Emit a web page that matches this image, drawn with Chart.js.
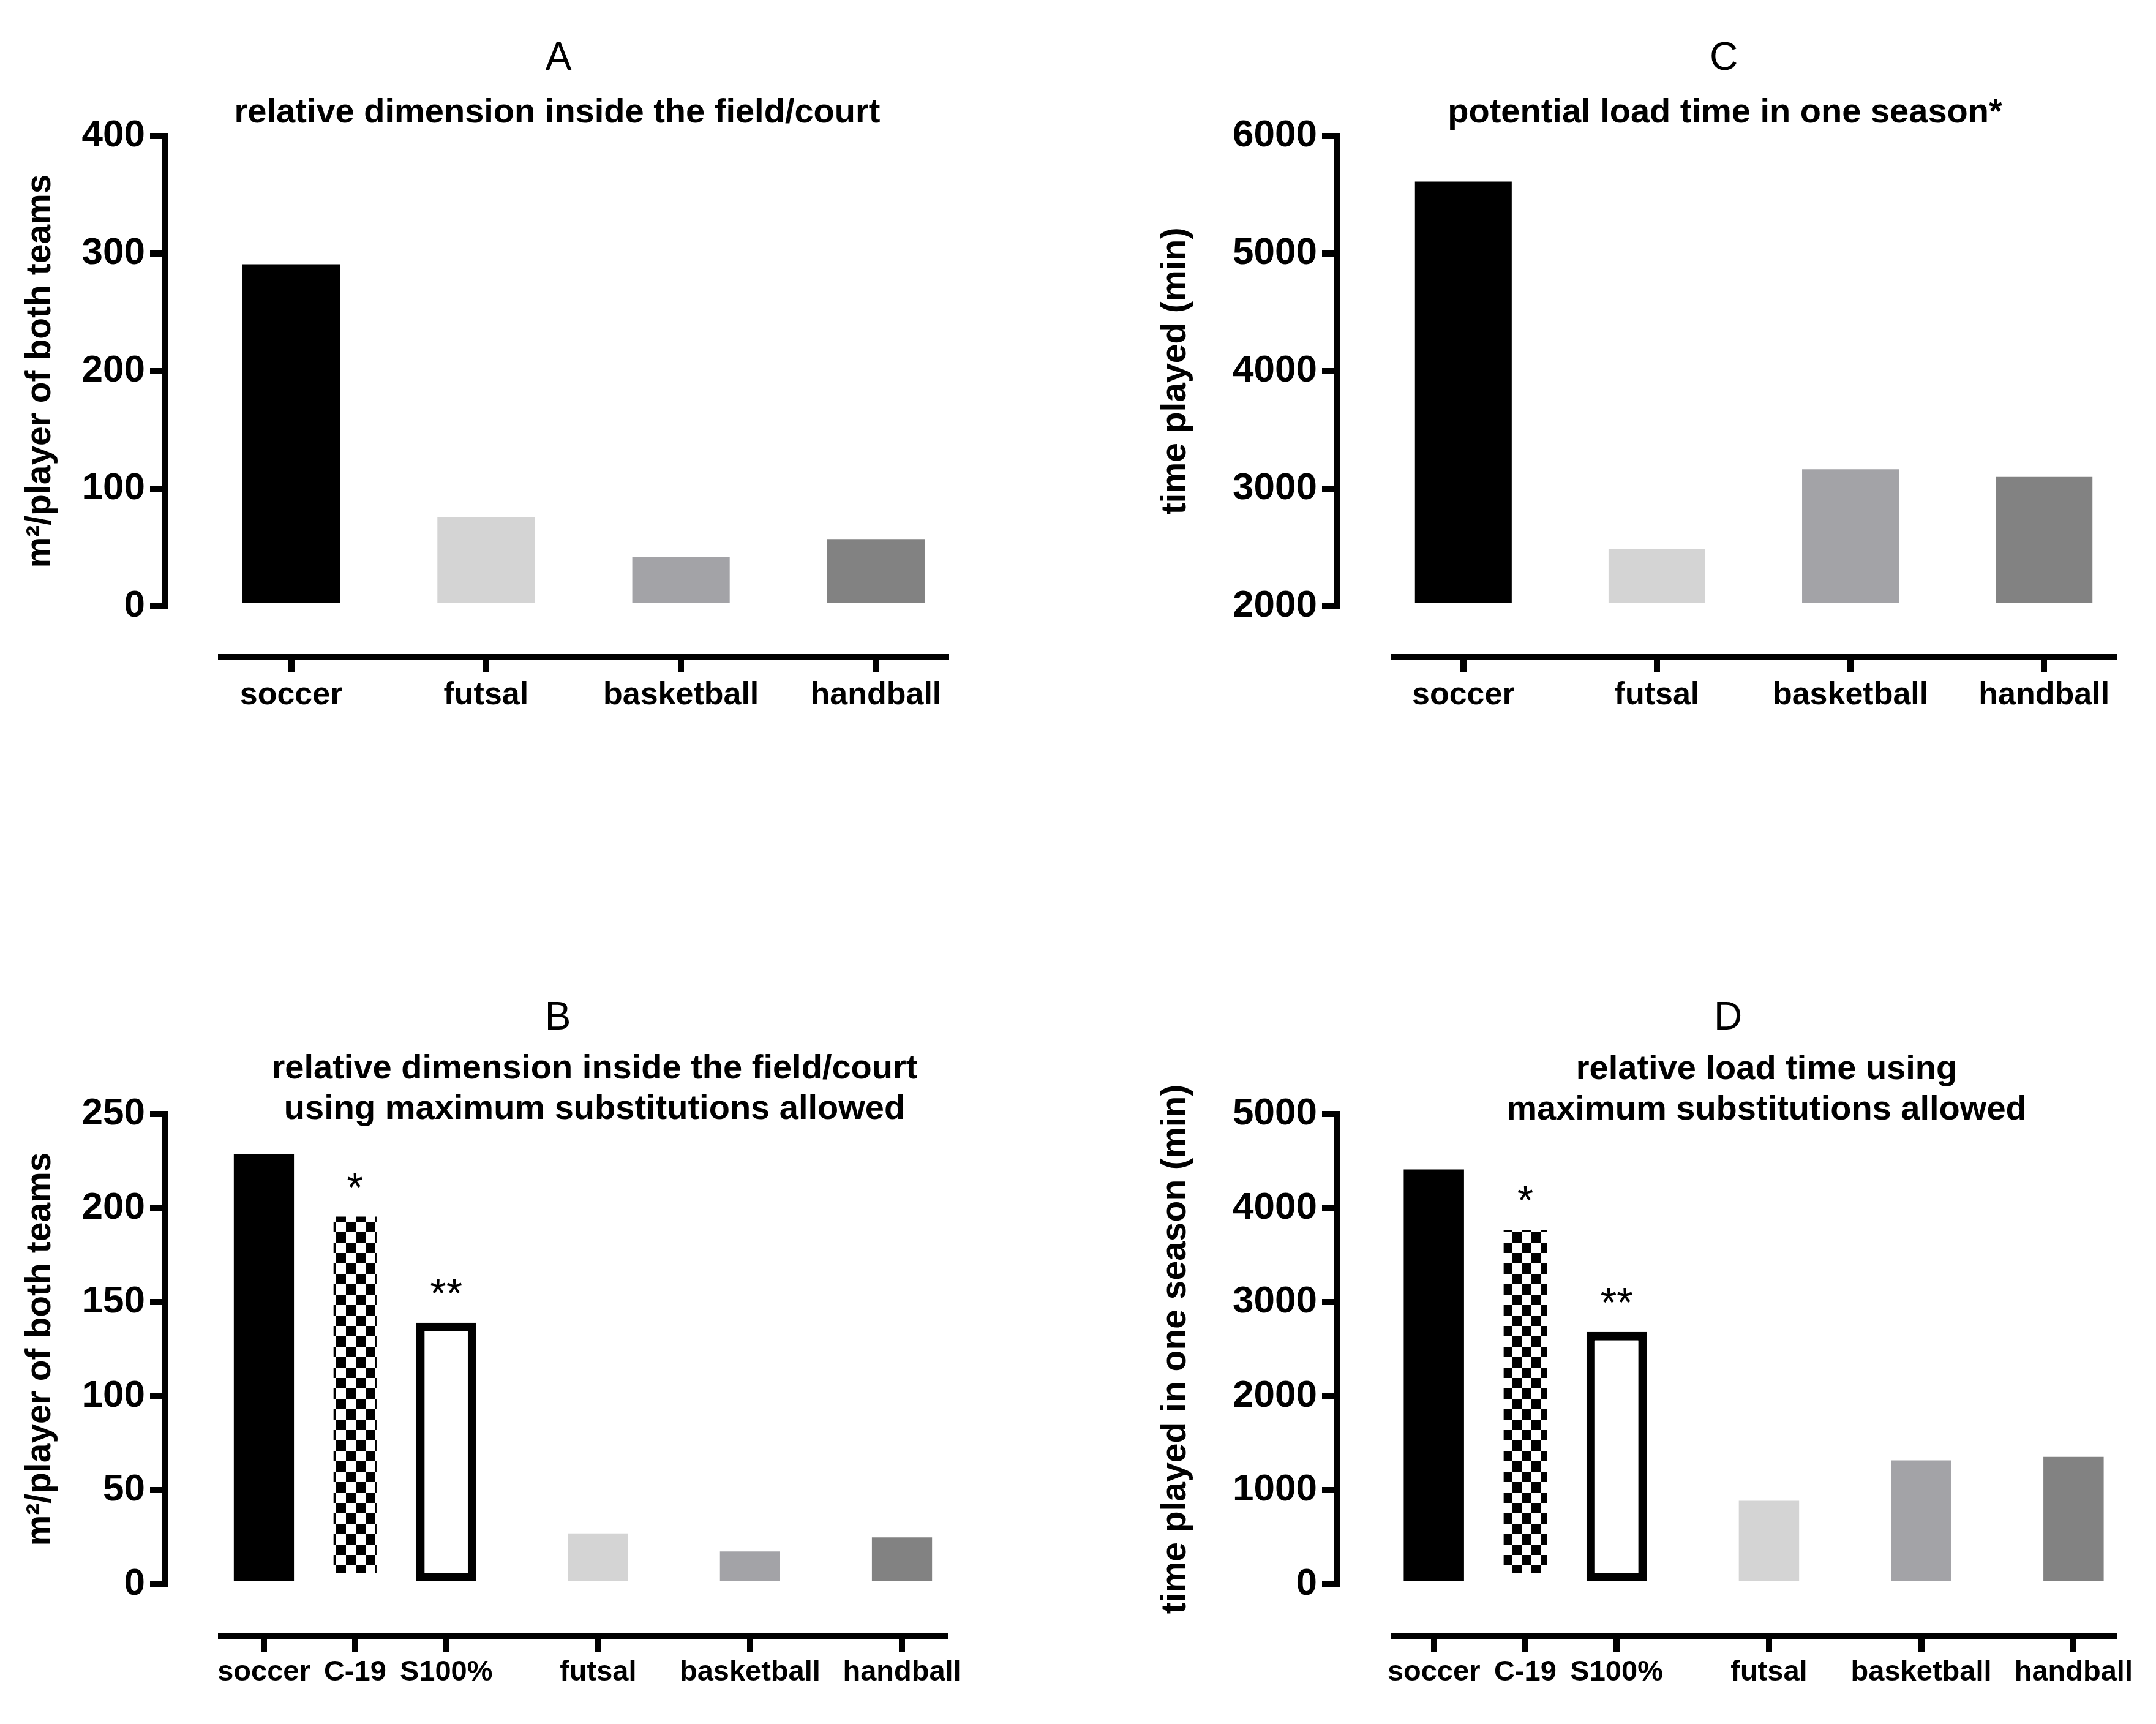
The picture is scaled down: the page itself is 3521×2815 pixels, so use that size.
<!DOCTYPE html>
<html>
<head>
<meta charset="utf-8">
<script src="https://cdn.jsdelivr.net/npm/chart.js@4/dist/chart.umd.min.js"></script>
<style>
  html, body { margin: 0; padding: 0; background: #ffffff; width: 3521px; height: 2815px; overflow: hidden; position: relative; }
  canvas { position: absolute; }
</style>
</head>
<body>
<canvas id="cA" width="1760" height="1400" style="left:0px;top:0px;width:1760px;height:1400px"></canvas>
<canvas id="cC" width="1761" height="1400" style="left:1760px;top:0px;width:1761px;height:1400px"></canvas>
<canvas id="cB" width="1760" height="1415" style="left:0px;top:1400px;width:1760px;height:1415px"></canvas>
<canvas id="cD" width="1761" height="1415" style="left:1760px;top:1400px;width:1761px;height:1415px"></canvas>
<script>
// ---------------- data ----------------
const sportsAC = ['soccer', 'futsal', 'basketball', 'handball'];
const sportsBD = ['soccer', 'C-19', 'S100%', 'futsal', 'basketball', 'handball'];
const slotsAC = [0, 1, 2, 3];
const slotsBD = [0, 1, 2, 3.667, 5.333, 7];

const areaA = [290.9, 76, 42, 57.1];          // m2/player of both teams
const loadC = [5612, 2490, 3165, 3100];       // time played (min)
const areaB = [228.6, 200, 139.1, 27.1, 17.5, 25];
const loadD = [4410, 3858, 2684, 889, 1319, 1356];

const ticksA = [0, 100, 200, 300, 400];
const ticksC = [2000, 3000, 4000, 5000, 6000];
const ticksB = [0, 50, 100, 150, 200, 250];
const ticksD = [0, 1000, 2000, 3000, 4000, 5000];

const marksBD = ['', '*', '**', '', '', ''];

const titleA = ['relative dimension inside the field/court'];
const titleC = ['potential load time in one season*'];
const titleB = ['relative dimension inside the field/court', 'using maximum substitutions allowed'];
const titleD = ['relative load time using', 'maximum substitutions allowed'];

const yTitleA = 'm\u00B2/player of both teams';
const yTitleC = 'time played (min)';
const yTitleB = 'm\u00B2/player of both teams';
const yTitleD = 'time played in one season (min)';

// ---------------- style ----------------
const FONT = '"Liberation Sans", Arial, Helvetica, sans-serif';
const BLACK = '#000000', LIGHT = '#d4d4d4', MID = '#a3a3a7', DARK = '#828282', WHITE = '#ffffff';

Chart.defaults.font.family = FONT;
Chart.defaults.color = '#000000';

function checkerPattern(ctx) {
  const tile = document.createElement('canvas');
  tile.width = 32; tile.height = 34;
  const g = tile.getContext('2d');
  g.fillStyle = WHITE; g.fillRect(0, 0, 32, 34);
  g.fillStyle = BLACK; g.fillRect(0, 0, 16, 17); g.fillRect(16, 17, 16, 17);
  const p = ctx.createPattern(tile, 'repeat');
  try { p.setTransform(new DOMMatrix().translate(5, 0)); } catch (e) {}
  return p;
}

const panelText = {
  id: 'panelText',
  afterDraw(chart, args, o) {
    const ctx = chart.ctx;
    ctx.save();
    ctx.fillStyle = BLACK;
    ctx.textAlign = 'center';
    ctx.textBaseline = 'alphabetic';
    ctx.font = '400 ' + o.letterSize + 'px ' + FONT;
    ctx.fillText(o.letter, o.letterX, o.letterY);
    ctx.font = '700 ' + o.lineSize + 'px ' + FONT;
    o.lines.forEach((t, i) => ctx.fillText(t, o.linesX, o.linesY + i * o.lineGap));
    if (o.marks) {
      const meta = chart.getDatasetMeta(0);
      ctx.font = '400 ' + o.markSize + 'px ' + FONT;
      meta.data.forEach((el, i) => {
        const m = o.marks[i];
        if (!m) return;
        const inset = o.insets ? o.insets[i] : 0;
        ctx.fillText(m, el.x, el.y + inset - o.markGap);
      });
    }
    ctx.restore();
  }
};

function spacer(axis, size) {
  return {
    type: 'linear', axis: axis, position: axis === 'x' ? 'bottom' : 'left', weight: 0, display: true,
    grid: { display: false, drawTicks: false }, border: { display: false }, ticks: { display: false },
    afterFit(s) { if (axis === 'x') s.height = size; else s.width = size; }
  };
}

function makePanel(cfg) {
  const canvas = document.getElementById(cfg.id);
  const ctx = canvas.getContext('2d');
  const bg = cfg.colors(ctx);
  return new Chart(ctx, {
    type: 'bar',
    data: {
      datasets: [{
        data: cfg.values.map((v, i) => ({ x: cfg.slots[i], y: v })),
        backgroundColor: bg,
        borderColor: cfg.borderColors || BLACK,
        borderWidth: cfg.borderWidths || 0,
        borderSkipped: false,
        barPercentage: cfg.barPct,
        categoryPercentage: 1,
        base: cfg.yTicks[0]
      }]
    },
    plugins: [panelText],
    options: {
      responsive: false,
      animation: false,
      devicePixelRatio: 1,
      layout: { padding: { left: 0, top: cfg.padTop, right: cfg.padRight, bottom: cfg.padBottom } },
      plugins: {
        legend: { display: false },
        tooltip: { enabled: false },
        panelText: {
          letter: cfg.letter, letterX: cfg.letterX, letterY: cfg.letterY, letterSize: 64,
          lines: cfg.lines, linesX: cfg.linesX, linesY: cfg.linesY, lineGap: 66, lineSize: 56,
          marks: cfg.marks, insets: cfg.borderWidths ? cfg.borderWidths.map((w, i) => cfg.borderColors[i] === WHITE ? w : 0) : null,
          markSize: 68, markGap: 25
        }
      },
      scales: {
        x: {
          type: 'linear', position: 'bottom', weight: 1, offset: false,
          min: cfg.xMin, max: cfg.xMax,
          afterBuildTicks(s) { s.ticks = cfg.slots.map(v => ({ value: v })); },
          afterFit(s) { s.height = 100; },
          border: { display: true, color: BLACK, width: 10 },
          grid: { offset: false, drawOnChartArea: false, drawTicks: true, tickLength: 25, tickWidth: 10, tickColor: BLACK, lineWidth: 10, color: BLACK },
          ticks: {
            autoSkip: false, maxRotation: 0, minRotation: 0, padding: 6, color: BLACK,
            font: { family: FONT, size: cfg.catSize, weight: 'bold' },
            callback: (v, i) => cfg.cats[i]
          }
        },
        xs: spacer('x', cfg.gapX),
        y: {
          type: 'linear', position: 'left', weight: 1,
          min: cfg.yTicks[0], max: cfg.yTicks[cfg.yTicks.length - 1],
          afterBuildTicks(s) { s.ticks = cfg.yTicks.map(v => ({ value: v })); },
          afterFit(s) { s.width = cfg.yWidth; },
          border: { display: true, color: BLACK, width: 10 },
          grid: { drawOnChartArea: false, drawTicks: true, tickLength: 25, tickWidth: 10, tickColor: BLACK, lineWidth: 10, color: BLACK },
          ticks: { padding: 8, color: BLACK, font: { family: FONT, size: 62, weight: 'bold' }, callback: v => String(v) },
          title: { display: true, text: cfg.yTitle, color: BLACK, font: { family: FONT, size: 57, weight: 'bold' }, padding: { top: cfg.yTitlePad, bottom: 0 } }
        },
        ys: spacer('y', cfg.gapY)
      }
    }
  });
}

// Panel A
makePanel({
  id: 'cA', values: areaA, slots: slotsAC, cats: sportsAC, yTicks: ticksA, yTitle: yTitleA,
  colors: () => [BLACK, LIGHT, MID, DARK], barPct: 0.5,
  xMin: -0.36, xMax: 3.36, catSize: 52,
  padTop: 222, padRight: 215, padBottom: 227, gapX: 83, gapY: 91, yWidth: 270, yTitlePad: 32,
  letter: 'A', letterX: 912, letterY: 114, lines: titleA, linesX: 910, linesY: 200
});

// Panel C
makePanel({
  id: 'cC', values: loadC, slots: slotsAC, cats: sportsAC, yTicks: ticksC, yTitle: yTitleC,
  colors: () => [BLACK, LIGHT, MID, DARK], barPct: 0.5,
  xMin: -0.36, xMax: 3.36, catSize: 52,
  padTop: 222, padRight: 69, padBottom: 227, gapX: 83, gapY: 92, yWidth: 424, yTitlePad: 126,
  letter: 'C', letterX: 1055, letterY: 114, lines: titleC, linesX: 1057, linesY: 200
});

// Panel B
makePanel({
  id: 'cB', values: areaB, slots: slotsBD, cats: sportsBD, yTicks: ticksB, yTitle: yTitleB,
  colors: ctx => [BLACK, checkerPattern(ctx), WHITE, LIGHT, MID, DARK],
  borderColors: [BLACK, WHITE, BLACK, LIGHT, MID, DARK], borderWidths: [0, 14, 14, 0, 0, 0],
  barPct: 0.66, marks: marksBD,
  xMin: -0.47, xMax: 7.47, catSize: 47,
  padTop: 419, padRight: 217, padBottom: 43, gapX: 85, gapY: 91, yWidth: 270, yTitlePad: 32,
  letter: 'B', letterX: 911, letterY: 281, lines: titleB, linesX: 971, linesY: 361
});

// Panel D
makePanel({
  id: 'cD', values: loadD, slots: slotsBD, cats: sportsBD, yTicks: ticksD, yTitle: yTitleD,
  colors: ctx => [BLACK, checkerPattern(ctx), WHITE, LIGHT, MID, DARK],
  borderColors: [BLACK, WHITE, BLACK, LIGHT, MID, DARK], borderWidths: [0, 14, 14, 0, 0, 0],
  barPct: 0.66, marks: marksBD,
  xMin: -0.44, xMax: 7.44, catSize: 47,
  padTop: 419, padRight: 69, padBottom: 43, gapX: 85, gapY: 92, yWidth: 424, yTitlePad: 126,
  letter: 'D', letterX: 1062, letterY: 281, lines: titleD, linesX: 1125, linesY: 362
});
</script>
</body>
</html>
